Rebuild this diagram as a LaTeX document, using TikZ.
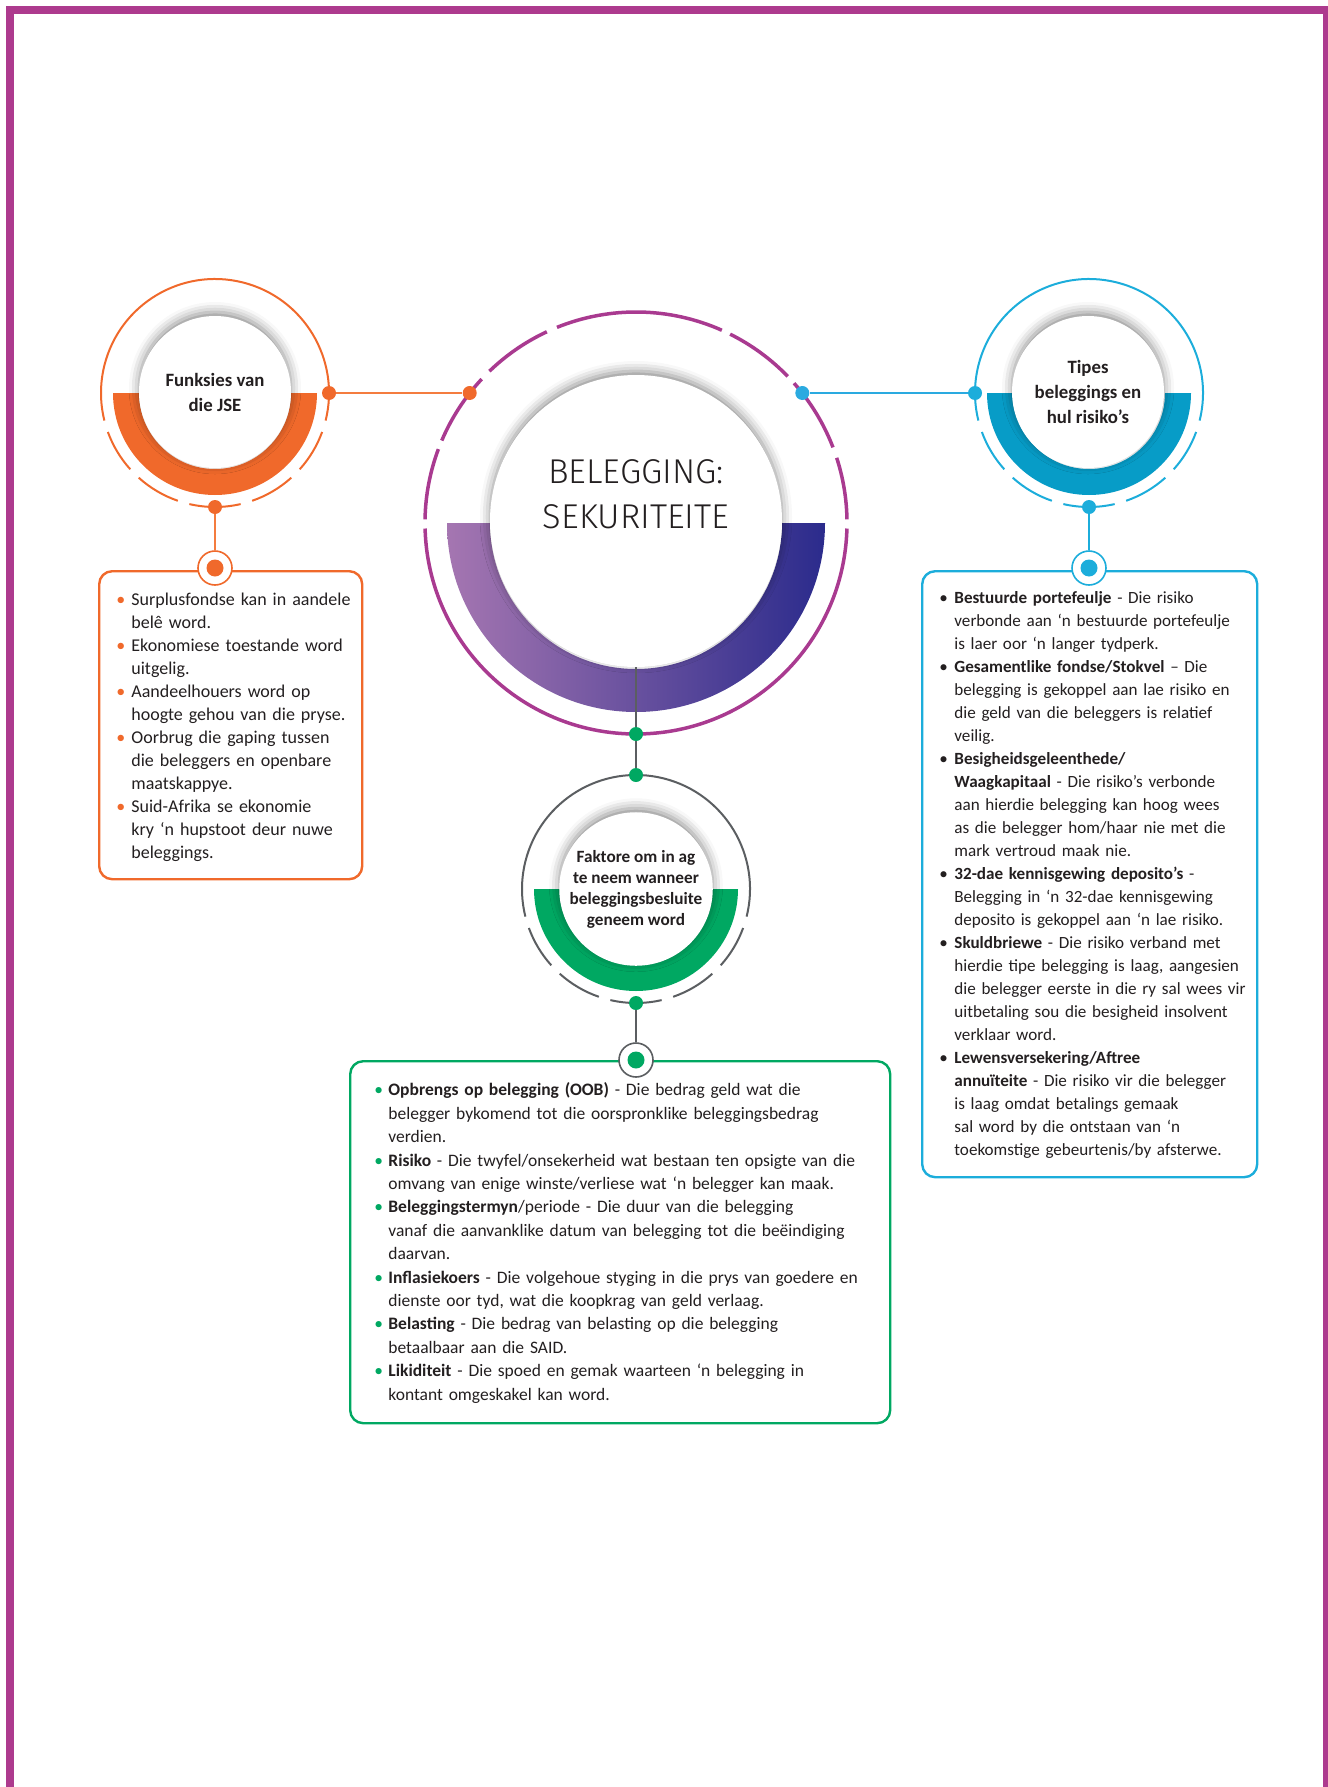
\documentclass[tikz,border=0pt]{standalone}
\usepackage{fontspec}
\setmainfont{Carlito}
\newfontfamily\titlefont{Fira Sans Light}
\usetikzlibrary{shadows.blur}
\definecolor{framepurple}{HTML}{AD3A8E}
\definecolor{ringpurple}{HTML}{A93A90}
\definecolor{bandlight}{HTML}{A576B1}
\definecolor{banddark}{HTML}{2B2B8C}
\definecolor{jseorange}{HTML}{F0692B}
\definecolor{jseline}{HTML}{F47C3F}
\definecolor{tipesring}{HTML}{1CADDB}
\definecolor{tipesband}{HTML}{079CC7}
\definecolor{tipesline}{HTML}{2AAAE0}
\definecolor{fakgreen}{HTML}{00A862}
\definecolor{fakgray}{HTML}{5B5E61}
\definecolor{ink}{HTML}{231F20}
% bullet with hanging lines
\newcommand{\punt}[3]{\par\noindent\hangindent=#2\hangafter=1\makebox[#2][l]{\textcolor{#1}{\textbullet}}{\let\\\newline#3}\par}
\begin{document}
\begin{tikzpicture}[x=0.5pt, y=0.5pt, line join=round,
    ringline/.style={line width=1pt, draw=#1},
    link/.style={line width=0.9pt, draw=#1},
    stud/.style={circle, fill=#1, inner sep=0pt, minimum size=7pt},
    bullseye/.style={circle, draw=#1, line width=0.8pt, fill=white, inner sep=0pt, minimum size=17pt},
    hubdisc/.style={circle, fill=white, inner sep=0pt, text=ink, align=center,
        blur shadow={shadow xshift=0pt, shadow yshift=2pt, shadow blur radius=5pt, shadow opacity=45}},
    infobox/.style={draw=#1, line width=1.2pt, rounded corners=6.5pt, fill=white, inner sep=0pt, anchor=north west},
    infotext/.style={inner sep=0pt, anchor=north west, align=left, text=ink, font=\fontsize{#1}{11.5}\selectfont}]
    \def\mx{636} \def\my{-523} % centre ring
    \useasboundingbox (0,0) rectangle (1327,-1787);
    \draw[framepurple, line width=4pt, line join=miter] (10,-1800) -- (10,-10) -- (1327,-10) -- (1327,-1800);

    % centre ring and band
    \shade[left color=bandlight, right color=banddark] (\mx,\my) ++(180:189) arc (180:360:189) -- ++(-43,0) arc (360:180:146) -- cycle;
    \draw[line width=1.75pt, ringpurple] (\mx,\my) ++(181.5:211) arc (181.5:358.5:211);
    \foreach \a/\b in {1/18,21/41.5,44/63.5,66/112,115/134,137/157,159.5/179}
        \draw[line width=1.75pt, ringpurple] (\mx,\my) ++(\a:211) arc (\a:\b:211);

    % small rings
    \foreach \cx/\cy/\rc/\bc in {215/-393/jseorange/jseorange, 1089/-393/tipesring/tipesband, 636/-889/fakgray/fakgreen}{
        \fill[\bc] (\cx,\cy) ++(180:102) arc (180:360:102) -- ++(-26,0) arc (360:180:76) -- cycle;
        \draw[ringline=\rc] (\cx,\cy) ++(-14:114) arc (-14:194:114);
        \foreach \a/\b in {200/222,228/251,257/283,289/312,318/340}
            \draw[ringline=\rc] (\cx,\cy) ++(\a:114) arc (\a:\b:114);
    }

    % hubs
    \node[hubdisc, minimum size=146pt] (hub) at (\mx,-521) {};
    \node[text=ink, align=center, font=\titlefont\fontsize{17.2}{22.5}\selectfont] (title) at (\mx,-494) {BELEGGING:\\SEKURITEITE};
    \node[hubdisc, minimum size=76pt, font=\bfseries\fontsize{9.4}{12.5}\selectfont] (jse) at (215,-392) {Funksies van\\die JSE};
    \node[hubdisc, minimum size=76pt, font=\bfseries\fontsize{9.4}{12.5}\selectfont] (tipes) at (1088,-392) {Tipes\\beleggings en\\hul risiko’s};
    \node[hubdisc, minimum size=76pt, font=\bfseries\fontsize{8.6}{10.5}\selectfont] (faktore) at (\mx,-889) {Faktore om in ag\\te neem wanneer\\beleggingsbesluite\\geneem word};

    % boxes
    \node[infobox=jseorange, minimum width=131.5pt, minimum height=154pt] (jsebox) at (98,-570) {};
    \node[infobox=tipesring, minimum width=167.5pt, minimum height=303pt] (tipbox) at (921,-570) {};
    \node[infobox=fakgreen, minimum width=270pt, minimum height=181pt] (fakbox) at (349,-1060) {};

    \node[infotext=9, text width=125pt] (jsetxt) at (116,-582) {%
        \punt{jseorange}{7.5pt}{Surplusfondse kan in aandele\\belê word.}%
        \punt{jseorange}{7.5pt}{Ekonomiese toestande word\\uitgelig.}%
        \punt{jseorange}{7.5pt}{Aandeelhouers word op\\hoogte gehou van die pryse.}%
        \punt{jseorange}{7.5pt}{Oorbrug die gaping tussen\\die beleggers en openbare\\maatskappye.}%
        \punt{jseorange}{7.5pt}{Suid-Afrika se ekonomie\\kry ‘n hupstoot deur nuwe\\beleggings.}};
    \node[infotext=8.55, text width=162pt] (tiptxt) at (939,-580) {%
        \punt{ink}{7.5pt}{\textbf{Bestuurde portefeulje} - Die risiko\\verbonde aan ‘n bestuurde portefeulje\\is laer oor ‘n langer tydperk.}%
        \punt{ink}{7.5pt}{\textbf{Gesamentlike fondse/Stokvel} – Die\\belegging is gekoppel aan lae risiko en\\die geld van die beleggers is relatief\\veilig.}%
        \punt{ink}{7.5pt}{\textbf{Besigheidsgeleenthede/}\\\textbf{Waagkapitaal} - Die risiko’s verbonde\\aan hierdie belegging kan hoog wees\\as die belegger hom/haar nie met die\\mark vertroud maak nie.}%
        \punt{ink}{7.5pt}{\textbf{32-dae kennisgewing deposito’s} -\\Belegging in ‘n 32-dae kennisgewing\\deposito is gekoppel aan ‘n lae risiko.}%
        \punt{ink}{7.5pt}{\textbf{Skuldbriewe} - Die risiko verband met\\hierdie tipe belegging is laag, aangesien\\die belegger eerste in die ry sal wees vir\\uitbetaling sou die besigheid insolvent\\verklaar word.}%
        \punt{ink}{7.5pt}{\textbf{Lewensversekering/Aftree}\\\textbf{annuïteite} - Die risiko vir die belegger\\is laag omdat betalings gemaak\\sal word by die ontstaan van ‘n\\toekomstige gebeurtenis/by afsterwe.}};
    \node[infotext=8.75, text width=258pt, font=\fontsize{8.75}{11.7}\selectfont] (faktxt) at (374,-1072) {%
        \punt{fakgreen}{7pt}{\textbf{Opbrengs op belegging (OOB)} - Die bedrag geld wat die\\belegger bykomend tot die oorspronklike beleggingsbedrag\\verdien.}%
        \punt{fakgreen}{7pt}{\textbf{Risiko} - Die twyfel/onsekerheid wat bestaan ten opsigte van die\\omvang van enige winste/verliese wat ‘n belegger kan maak.}%
        \punt{fakgreen}{7pt}{\textbf{Beleggingstermyn}/periode - Die duur van die belegging\\vanaf die aanvanklike datum van belegging tot die beëindiging\\daarvan.}%
        \punt{fakgreen}{7pt}{\textbf{Inflasiekoers} - Die volgehoue styging in die prys van goedere en\\dienste oor tyd, wat die koopkrag van geld verlaag.}%
        \punt{fakgreen}{7pt}{\textbf{Belasting} - Die bedrag van belasting op die belegging\\betaalbaar aan die SAID.}%
        \punt{fakgreen}{7pt}{\textbf{Likiditeit} - Die spoed en gemak waarteen ‘n belegging in\\kontant omgeskakel kan word.}};

    % dots on the rings
    \node[stud=jseorange] (jseR) at (329,-393) {};
    \node[stud=jseorange] (jseB) at (215,-507) {};
    \node[stud=jseorange] (hubL) at (469.7,-393) {};
    \node[stud=tipesline] (hubR) at (802.3,-393) {};
    \node[stud=tipesring] (tipL) at (975,-393) {};
    \node[stud=tipesring] (tipB) at (1089,-507) {};
    \node[stud=fakgreen] (hubB) at (\mx,-734) {};
    \node[stud=fakgreen] (fakT) at (\mx,-775) {};
    \node[stud=fakgreen] (fakB) at (\mx,-1003) {};

    % targets on the boxes
    \node[bullseye=jseorange] (jseaim) at (215,-568) {};
    \node[stud=jseorange, minimum size=8.5pt] (jseaimd) at (jseaim) {};
    \node[bullseye=tipesring] (tipaim) at (1089,-568) {};
    \node[stud=tipesring, minimum size=8.5pt] (tipaimd) at (tipaim) {};
    \node[bullseye=fakgray] (fakaim) at (\mx,-1060) {};
    \node[stud=fakgreen, minimum size=8.5pt] (fakaimd) at (fakaim) {};

    % connectors
    \draw[link=jseline] (jseR) -- (hubL);
    \draw[link=tipesline] (tipL) -- (hubR);
    \draw[link=fakgray] (hub.south) -- (hubB);
    \draw[link=fakgray] (hubB) -- (fakT);
    \draw[link=jseline] (jseB) -- (jseaim);
    \draw[link=tipesring] (tipB) -- (tipaim);
    \draw[link=fakgray] (fakB) -- (fakaim);
\end{tikzpicture}
\end{document}
